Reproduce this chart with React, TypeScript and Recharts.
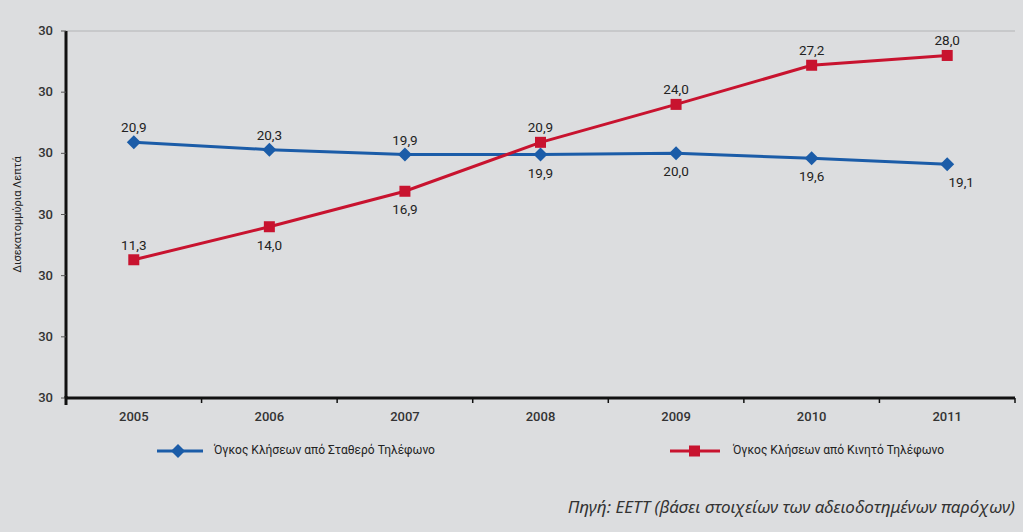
import React from 'react';
import { LineChart, Line, XAxis, YAxis, CartesianGrid, Legend } from 'recharts';

const years = ['2005', '2006', '2007', '2008', '2009', '2010', '2011'];
const fixedCalls = [20.9, 20.3, 19.9, 19.9, 20.0, 19.6, 19.1];
const mobileCalls = [11.3, 14.0, 16.9, 20.9, 24.0, 27.2, 28.0];
const yTicks = [0, 5, 10, 15, 20, 25, 30];
const yTickLabels = ['30', '30', '30', '30', '30', '30', '30'];
const fixedLabelBelow = [false, false, false, true, true, true, true];
const mobileLabelBelow = [false, true, true, false, false, false, false];

const fixedName = 'Όγκος Κλήσεων από Σταθερό Τηλέφωνο';
const mobileName = 'Όγκος Κλήσεων από Κινητό Τηλέφωνο';
const yLabel = 'Δισεκατομμύρια Λεπτά';
const source = 'Πηγή: ΕΕΤΤ (βάσει στοιχείων των αδειοδοτημένων παρόχων)';

const data = years.map((y, i) => ({ year: y, fixed: fixedCalls[i], mobile: mobileCalls[i] }));

const BLUE = '#1b5ca8';
const RED = '#c8132f';
const FONT = 'Roboto, "Liberation Sans", sans-serif';

const W = 1023;
const H = 532;
const X_H = 40;
const M = { top: 31, right: 8, bottom: 134 - X_H, left: 0 };
const Y_W = 66;
const bandW = (W - M.right - Y_W) / years.length;

const fmt = (v: number) => v.toFixed(1).replace('.', ',');

const Diamond = (props: any) => {
  const { cx, cy } = props;
  if (cx == null || cy == null) return null;
  return <path d={`M${cx},${cy - 7} L${cx + 7},${cy} L${cx},${cy + 7} L${cx - 7},${cy} Z`} fill={BLUE} />;
};

const Square = (props: any) => {
  const { cx, cy } = props;
  if (cx == null || cy == null) return null;
  return <rect x={cx - 5.5} y={cy - 5.5} width={11} height={11} fill={RED} />;
};

const makeLabel = (below: boolean[], dxLast: number) => (props: any) => {
  const { x, y, value, index } = props;
  const b = below[index];
  const dx = index === years.length - 1 && b ? dxLast : 0;
  return (
    <text
      x={x + dx}
      y={b ? y + 23 : y - 10}
      textAnchor="middle"
      fontFamily={FONT}
      fontSize={13.5}
      fill="#222"
    >
      {fmt(value)}
    </text>
  );
};

const XTick = (props: any) => {
  const { x, y, payload, index } = props;
  return (
    <g>
      <line x1={x + bandW / 2} y1={y - 8} x2={x + bandW / 2} y2={y - 3} stroke="#111" strokeWidth={1.5} />
      {index === 0 ? (
        <line x1={x - bandW / 2} y1={y - 10} x2={x - bandW / 2} y2={y - 1} stroke="#111" strokeWidth={3} />
      ) : null}
      <text x={x} y={y + 15} textAnchor="middle" fontFamily={FONT} fontSize={13} fontWeight={500} fill="#333">
        {payload.value}
      </text>
    </g>
  );
};

const YTick = (props: any) => {
  const { x, y, index } = props;
  return (
    <text x={x - 6} y={y + 4} textAnchor="end" fontFamily={FONT} fontSize={13} fontWeight={500} fill="#333">
      {yTickLabels[index]}
    </text>
  );
};

const LegendContent = () => (
  <div style={{ position: 'relative', width: W, height: 20, fontFamily: FONT, fontSize: 12, color: '#222' }}>
    <svg style={{ position: 'absolute', left: 155, top: 3 }} width={50} height={14}>
      <line x1={2} y1={7} x2={48} y2={7} stroke={BLUE} strokeWidth={3} />
      <path d="M23,0 L30,7 L23,14 L16,7 Z" fill={BLUE} />
    </svg>
    <span style={{ position: 'absolute', left: 214, top: 2, whiteSpace: 'nowrap' }}>{fixedName}</span>
    <svg style={{ position: 'absolute', left: 668, top: 3 }} width={54} height={14}>
      <line x1={2} y1={7} x2={52} y2={7} stroke={RED} strokeWidth={3} />
      <rect x={21} y={1.5} width={11} height={11} fill={RED} />
    </svg>
    <span style={{ position: 'absolute', left: 733, top: 2, whiteSpace: 'nowrap' }}>{mobileName}</span>
  </div>
);

export default function App() {
  return (
    <div style={{ position: 'absolute', left: 0, top: 0, width: W, height: H, background: '#dcdddf', overflow: 'hidden' }}>
      <LineChart width={W} height={H} data={data} margin={M}>
        <CartesianGrid horizontal vertical={false} stroke="#b3b4b6" strokeWidth={1} />
        <XAxis
          dataKey="year"
          axisLine={{ stroke: '#111', strokeWidth: 3 }}
          tickLine={false}
          tick={<XTick />}
          height={X_H}
          interval={0}
          padding={{ left: bandW / 2, right: bandW / 2 }}
        />
        <YAxis
          yAxisId="left"
          domain={[0, 30]}
          ticks={yTicks}
          width={Y_W}
          axisLine={{ stroke: '#111', strokeWidth: 3 }}
          tickLine={{ stroke: '#555', strokeWidth: 1 }}
          tickSize={5}
          tick={<YTick />}
          interval={0}
          label={{
            value: yLabel,
            angle: -90,
            position: 'insideLeft',
            offset: 17,
            style: { fontFamily: FONT, fontSize: 11, fill: '#222', textAnchor: 'middle' },
          }}
        />
        <YAxis
          yAxisId="right"
          orientation="right"
          domain={[0, 30]}
          width={0}
          axisLine={{ stroke: '#9a9b9d', strokeWidth: 1 }}
          tick={false}
          tickLine={false}
        />
        <Legend
          layout="horizontal"
          verticalAlign="middle"
          align="center"
          content={<LegendContent />}
          wrapperStyle={{ left: 0, top: 441, width: W }}
        />
        <Line
          yAxisId="left"
          dataKey="fixed"
          name={fixedName}
          stroke={BLUE}
          strokeWidth={3}
          dot={<Diamond />}
          activeDot={false}
          isAnimationActive={false}
          label={makeLabel(fixedLabelBelow, 14)}
        />
        <Line
          yAxisId="left"
          dataKey="mobile"
          name={mobileName}
          stroke={RED}
          strokeWidth={3}
          dot={<Square />}
          activeDot={false}
          isAnimationActive={false}
          label={makeLabel(mobileLabelBelow, 0)}
        />
      </LineChart>
      <div
        style={{
          position: 'absolute',
          right: 8,
          top: 495,
          fontFamily: '"Noto Sans", "Open Sans", sans-serif',
          fontStyle: 'italic',
          fontSize: 17,
          color: '#333',
          whiteSpace: 'nowrap',
        }}
      >
        {source}
      </div>
    </div>
  );
}
